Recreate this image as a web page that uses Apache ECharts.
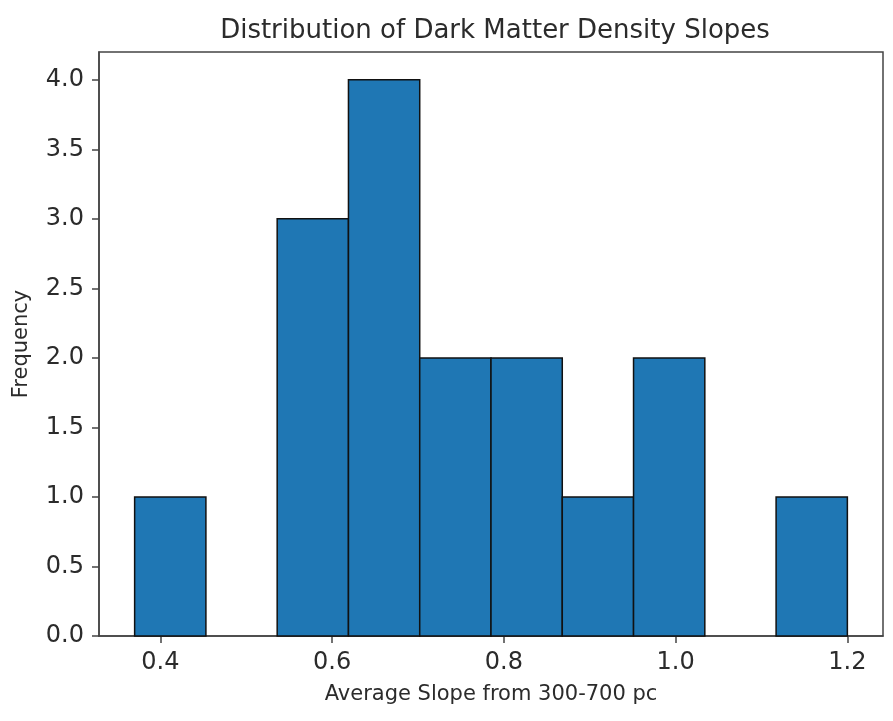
<!DOCTYPE html>
<html>
<head>
<meta charset="utf-8">
<script src="https://cdn.jsdelivr.net/npm/echarts@6/dist/echarts.min.js"></script>
<style>
html,body{margin:0;padding:0;background:#fff;}
#chart{width:893px;height:721px;}
</style>
</head>
<body>
<div id="chart"></div>
<script>
const binEdges = [0.37, 0.453, 0.536, 0.619, 0.702, 0.785, 0.868, 0.951, 1.034, 1.117, 1.2];
const counts = [1, 0, 3, 4, 2, 2, 1, 2, 0, 1];
const xTicks = [0.4, 0.6, 0.8, 1.0, 1.2];
const yTicks = [0, 0.5, 1.0, 1.5, 2.0, 2.5, 3.0, 3.5, 4.0];

const bars = counts.map((c, i) => [binEdges[i], binEdges[i + 1], c]);

const chart = echarts.init(document.getElementById('chart'), null, {renderer: 'canvas'});
const textColor = '#2b2b2b';
const lineColor = '#444';
chart.setOption({
  animation: false,
  backgroundColor: '#fff',
  title: {
    text: 'Distribution of Dark Matter Density Slopes',
    left: 490, top: 13, textAlign: 'center',
    textStyle: {fontFamily: 'DejaVu Sans', fontSize: 26, fontWeight: 'normal', color: textColor}
  },
  grid: {left: 99, right: 10, top: 52, bottom: 85, show: true, borderColor: lineColor, borderWidth: 1.5, backgroundColor: 'transparent'},
  xAxis: {
    type: 'value', min: 0.3285, max: 1.2415,
    name: 'Average Slope from 300-700 pc', nameLocation: 'middle', nameGap: 48,
    nameTextStyle: {fontFamily: 'DejaVu Sans', fontSize: 21, color: textColor},
    axisLine: {show: true, lineStyle: {color: lineColor, width: 1.5}},
    axisTick: {show: true, customValues: xTicks, length: 7, lineStyle: {color: lineColor, width: 1.5}},
    axisLabel: {customValues: xTicks, formatter: v => v.toFixed(1), margin: 15,
      fontFamily: 'DejaVu Sans', fontSize: 24, color: textColor},
    splitLine: {show: false}
  },
  yAxis: {
    type: 'value', min: 0, max: 4.2,
    name: 'Frequency', nameLocation: 'middle', nameGap: 67,
    nameTextStyle: {fontFamily: 'DejaVu Sans', fontSize: 21, color: textColor},
    axisLine: {show: true, lineStyle: {color: lineColor, width: 1.5}},
    axisTick: {show: true, customValues: yTicks, length: 7, lineStyle: {color: lineColor, width: 1.5}},
    axisLabel: {customValues: yTicks, formatter: v => v.toFixed(1), margin: 15,
      fontFamily: 'DejaVu Sans', fontSize: 24, color: textColor},
    splitLine: {show: false}
  },
  series: [{
    type: 'custom',
    data: bars,
    encode: {x: [0, 1], y: 2},
    renderItem: function (params, api) {
      const h = api.value(2);
      if (!h) return null;
      const p0 = api.coord([api.value(0), h]);
      const p1 = api.coord([api.value(1), 0]);
      return {
        type: 'rect',
        shape: {x: p0[0], y: p0[1], width: p1[0] - p0[0], height: p1[1] - p0[1]},
        style: {fill: '#1f77b4', stroke: '#111', lineWidth: 1.5}
      };
    }
  }]
});
</script>
</body>
</html>
